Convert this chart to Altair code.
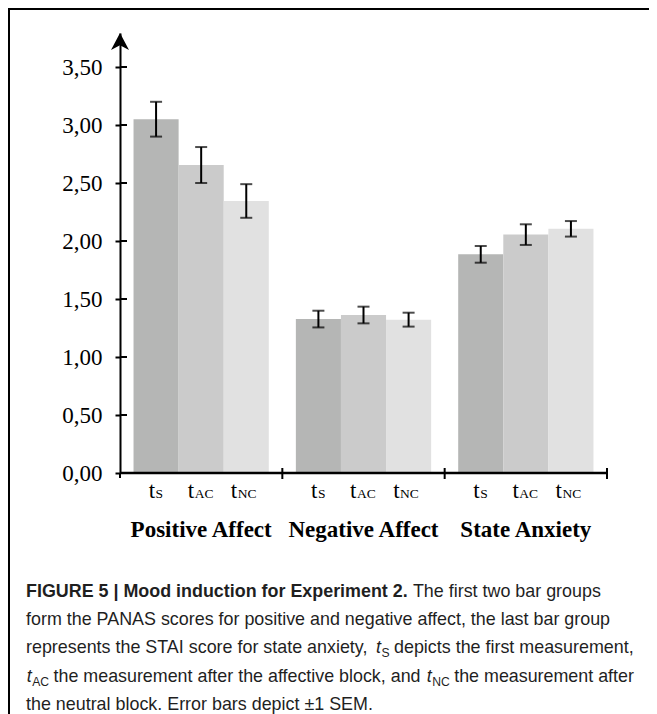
import altair as alt
import pandas as pd

# ---- data ----
groups = ["Positive Affect", "Negative Affect", "State Anxiety"]
times = ["tS", "tAC", "tNC"]
subs = ["S", "AC", "NC"]
pos_means = [3.05, 2.655, 2.345]
pos_sems = [0.15, 0.155, 0.145]
neg_means = [1.327, 1.362, 1.322]
neg_sems = [0.072, 0.072, 0.06]
anx_means = [1.885, 2.055, 2.105]
anx_sems = [0.072, 0.089, 0.067]
y_ticks = [0.0, 0.5, 1.0, 1.5, 2.0, 2.5, 3.0, 3.5]
bar_colors = ["#b5b6b5", "#cbcbcb", "#e1e1e1"]

# caption: each line is a list of (text, style) segments
caption_lines = [
    [("FIGURE 5 | Mood induction for Experiment 2.", "bold"), (" The first two bar groups", "reg")],
    [("form the PANAS scores for positive and negative affect, the last bar group", "reg")],
    [("represents the STAI score for state anxiety, ", "reg"), ("t", "ital"), ("S", "sub"),
     (" depicts the first measurement,", "reg")],
    [("t", "ital"), ("AC", "sub"), (" the measurement after the affective block, and ", "reg"),
     ("t", "ital"), ("NC", "sub"), (" the measurement after", "reg")],
    [("the neutral block. Error bars depict \u00b11 SEM.", "reg")],
]

rows = []
for g, ms, ss in zip(groups, [pos_means, neg_means, anx_means], [pos_sems, neg_sems, anx_sems]):
    for t, s, m, e in zip(times, subs, ms, ss):
        rows.append({"group": g, "time": t, "sub": s, "mean": m, "sem": e})
df = pd.DataFrame(rows)
df_groups = pd.DataFrame({"group": groups})
df_ticks = pd.DataFrame({"v": y_ticks})
one = pd.DataFrame({"a": [0]})

W, H = 487, 440
SERIF = "Liberation Serif"
SANS = "Liberation Sans"

xs = alt.Scale(domain=groups, paddingInner=0, paddingOuter=0)
xo = alt.Scale(domain=times, paddingInner=0, paddingOuter=0.3)
ys = alt.Scale(domain=[0, H / 116.0], nice=False, zero=True)

yaxis = alt.Axis(
    values=y_ticks,
    labelExpr="replace(format(datum.value, '.2f'), '.', ',')",
    labelFont=SERIF, labelFontSize=23, labelColor="black",
    domainColor="black", domainWidth=2,
    tickColor="black", tickWidth=2, tickSize=5,
    labelPadding=13, grid=False, title=None,
)

X = lambda: alt.X("group:N", scale=xs, axis=None, sort=groups)
XO = lambda: alt.XOffset("time:N", scale=xo, sort=times)

base = alt.Chart(df)

bars = base.mark_bar().encode(
    x=X(), xOffset=XO(),
    y=alt.Y("mean:Q", scale=ys, axis=yaxis),
    color=alt.Color("time:N", scale=alt.Scale(domain=times, range=bar_colors), legend=None),
)

err = base.transform_calculate(lo="datum.mean - datum.sem", hi="datum.mean + datum.sem")
err_rule = err.mark_rule(color="black", strokeWidth=2).encode(
    x=X(), xOffset=XO(),
    y=alt.Y("lo:Q", scale=ys, axis=yaxis), y2="hi:Q",
)
cap_lo = err.mark_tick(color="black", thickness=2, size=12, orient="horizontal").encode(
    x=X(), xOffset=XO(), y=alt.Y("lo:Q", scale=ys, axis=yaxis))
cap_hi = err.mark_tick(color="black", thickness=2, size=12, orient="horizontal").encode(
    x=X(), xOffset=XO(), y=alt.Y("hi:Q", scale=ys, axis=yaxis))

inner_ticks = alt.Chart(df_ticks).mark_rule(color="black", strokeWidth=2).encode(
    y=alt.Y("v:Q", scale=ys, axis=yaxis), x=alt.value(0), x2=alt.value(7))

xline = alt.Chart(one).mark_rule(color="black", strokeWidth=2.5).encode(
    x=alt.value(0), x2=alt.value(W), y=alt.value(H))

yline_ext = alt.Chart(one).mark_rule(color="black", strokeWidth=2).encode(
    x=alt.value(0), y=alt.value(H), y2=alt.value(H + 5))

sep = alt.Chart(df_groups).mark_rule(color="black", strokeWidth=2).encode(
    x=alt.X("group:N", scale=xs, axis=None, sort=groups, bandPosition=1),
    y=alt.value(H - 5), y2=alt.value(H + 6))

arrow = alt.Chart(one).mark_point(
    shape="M0,-1 L1,0.9 L0,0.35 L-1,0.9 Z", size=324, filled=True,
    color="black", opacity=1, strokeWidth=0,
).encode(x=alt.value(0), y=alt.value(9))

label_layers = []
for t, dx in zip(times, [-1, -7, -9]):
    src = base.transform_filter(alt.datum.time == t)
    label_layers.append(src.mark_text(
        text="t", align="right", baseline="alphabetic", font=SERIF, fontSize=23,
        color="black", dx=dx).encode(x=X(), xOffset=XO(), y=alt.value(H + 25)))
    label_layers.append(src.mark_text(
        align="left", baseline="alphabetic", font=SERIF, fontSize=13.5,
        color="black", dx=dx + 0.5).encode(x=X(), xOffset=XO(), y=alt.value(H + 25),
                                           text="sub:N"))

group_labels = alt.Chart(df_groups).mark_text(
    font=SERIF, fontSize=23, fontWeight="bold", baseline="alphabetic", color="black"
).encode(x=X(), y=alt.value(H + 64), text="group:N")

# ---- caption layout (Arial / Liberation Sans advance widths, per 1000 em) ----
REG = dict(zip(" !,.|-", [278, 278, 278, 278, 260, 333]))
REG.update(dict(zip("abcdefghijklmnopqrstuvwxyz",
                    [556, 556, 500, 556, 556, 278, 556, 556, 222, 222, 500, 222, 833,
                     556, 556, 556, 556, 333, 500, 278, 556, 500, 722, 500, 500, 500])))
REG.update(dict(zip("ABCDEFGHIJKLMNOPQRSTUVWXYZ",
                    [667, 667, 722, 722, 667, 611, 778, 722, 278, 500, 667, 556, 833,
                     722, 778, 667, 778, 722, 667, 611, 722, 667, 944, 667, 667, 611])))
REG.update({d: 556 for d in "0123456789"})
REG["\u00b1"] = 584
BOLD = dict(zip(" ,.|", [278, 278, 278, 280]))
BOLD.update(dict(zip("abcdefghijklmnopqrstuvwxyz",
                     [556, 611, 556, 611, 556, 333, 611, 611, 278, 278, 556, 278, 889,
                      611, 611, 611, 611, 389, 556, 333, 611, 556, 778, 556, 556, 500])))
BOLD.update(dict(zip("ABCDEFGHIJKLMNOPQRSTUVWXYZ",
                     [722, 722, 722, 722, 667, 611, 778, 722, 278, 556, 722, 611, 833,
                      722, 778, 667, 778, 722, 667, 611, 722, 667, 944, 667, 667, 611])))
BOLD.update({d: 556 for d in "0123456789"})

REL = {"bold": 1.0, "reg": 1.0, "ital": 1.0, "sub": 0.68}   # relative font sizes


def seg_em(text, style):
    table = BOLD if style == "bold" else REG
    return sum(table.get(c, 556) for c in text) / 1000.0 * REL[style] + (0.04 if style == "ital" else 0)


X0 = -94          # left edge of caption text, plot coordinates (page x = 26)
Y0 = 559          # first line centre
LINE = 28.2
FS = 17.9
seg_rows = []
for i, line in enumerate(caption_lines):
    total_em = sum(seg_em(t, s) for t, s in line)
    fs = min(FS, (634 - 26) / total_em)
    x = X0
    y = Y0 + i * LINE
    for text, style in line:
        lead = len(text) - len(text.lstrip(" "))
        x_start = x + seg_em(" " * lead, style) * fs
        seg_rows.append({"text": text.strip(" "), "style": style,
                         "fs": fs * REL[style],
                         "px": x_start + (0.5 if style == "sub" else 0),
                         "py": y + (0.28 * fs if style == "sub" else 0)})
        x += seg_em(text, style) * fs
segs = pd.DataFrame(seg_rows)


def cap(style, **kw):
    return alt.Chart(segs).transform_filter(alt.datum.style == style).mark_text(
        font=SANS, align="left", baseline="middle", color="#1f1f1f", **kw
    ).encode(x=alt.X("px:Q", scale=None), y=alt.Y("py:Q", scale=None), text="text:N",
             size=alt.Size("fs:Q", scale=None, legend=None))


captions = [
    cap("bold", fontWeight="bold"),
    cap("reg"),
    cap("ital", fontStyle="italic"),
    cap("sub"),
]

frame_left = alt.Chart(one).mark_rule(color="black", strokeWidth=2).encode(
    x=alt.value(-111), y=alt.value(-24), y2=alt.value(690))
frame_top = alt.Chart(one).mark_rule(color="black", strokeWidth=2).encode(
    x=alt.value(-112), x2=alt.value(540), y=alt.value(-24))

chart = alt.layer(
    bars, err_rule, cap_lo, cap_hi, inner_ticks, xline, yline_ext, sep, arrow,
    *label_layers, group_labels, *captions, frame_left, frame_top,
).properties(
    width=W, height=H,
    autosize=alt.AutoSizeParams(type="none"),
    padding={"left": 112, "top": 25, "right": 42, "bottom": 241},
    background="white",
).configure_view(stroke=None)

chart.save("out.html", embed_options={"renderer": "svg", "actions": False})
